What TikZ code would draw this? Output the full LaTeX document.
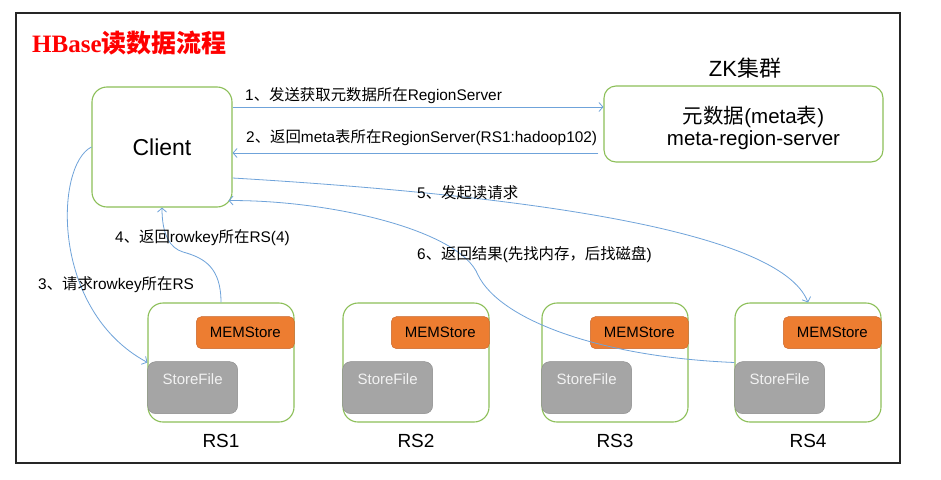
\documentclass[tikz,border=0pt]{standalone}
\usepackage{fontspec}
\setmainfont{Liberation Sans}
\newfontfamily\zhfont{Noto Sans CJK SC}
\newfontfamily\titlefont{Liberation Serif}
\usetikzlibrary{arrows.meta,positioning}

\definecolor{boxgreen}{HTML}{8CBF58}
\definecolor{flowblue}{HTML}{6FA3DA}
\definecolor{memfill}{HTML}{ED7D31}
\definecolor{memedge}{HTML}{C8652A}
\definecolor{sffill}{HTML}{A5A5A5}
\definecolor{sfedge}{HTML}{8A8A8A}
\definecolor{titlered}{HTML}{FF0000}

\newcommand{\zh}[1]{{\zhfont #1}}
\newcommand{\fsz}[1]{\fontsize{#1}{#1}\selectfont}

\begin{document}
\begin{tikzpicture}[x=1pt,y=-1pt,
  box/.style={draw=boxgreen, line width=1.1pt, rounded corners=15pt, fill=white},
  mem/.style={draw=memedge, fill=memfill, rounded corners=5pt, minimum width=98pt,
    minimum height=32pt, inner sep=0pt, font=\fsz{15}, anchor=north east},
  sfile/.style={draw=sfedge, fill=sffill, rounded corners=8pt, text=white!95!black,
    minimum width=90pt, inner sep=0pt, text height=23pt, text depth=29pt,
    font=\fsz{15}, anchor=north west},
  flow/.style={draw=flowblue, line width=0.8pt, -{Straight Barb[length=4pt,width=9pt]}},
  lbl/.style={anchor=west, inner sep=0pt, font=\fsz{15.4}},
  rsname/.style={font=\fsz{19}, inner sep=0pt}]
  \useasboundingbox[fill=white] (0,0) rectangle (941,479);
  \draw[line width=1.2pt, black!85] (16,13) rectangle (900,463);

  % title
  \node[anchor=west, inner sep=0pt, text=titlered, font=\bfseries\fsz{25}] (title) at (32,43)
    {{\titlefont HBase}\zh{读数据流程}};

  % client and zookeeper
  \node[box, minimum width=140pt, minimum height=120pt, font=\fsz{23}] (client) at (162,147) {Client};
  \node[box, rounded corners=12pt, minimum width=279pt, minimum height=76pt] (zk) at (743.5,124) {};
  \node[align=center, font=\fontsize{20.5}{22}\selectfont] (zktext) at ([xshift=10pt,yshift=-4pt]zk.center)
    {\zh{元数据}(meta\zh{表})\\meta-region-server};
  \node[font=\fsz{22}] (zkname) at (745,68) {ZK\zh{集群}};

  % region servers
  \node[box, minimum width=146pt, minimum height=119pt] (rs1) at (221,362.5) {};
  \node[mem] (mem1) at ([yshift=-14pt]rs1.north east) {MEMStore};
  \node[sfile] (sf1) at ([yshift=-59pt]rs1.north west) {StoreFile};
  \node[rsname, below=11pt of rs1] (rsl1) {RS1};

  \node[box, minimum width=146pt, minimum height=119pt] (rs2) at (416,362.5) {};
  \node[mem] (mem2) at ([yshift=-14pt]rs2.north east) {MEMStore};
  \node[sfile] (sf2) at ([yshift=-59pt]rs2.north west) {StoreFile};
  \node[rsname, below=11pt of rs2] (rsl2) {RS2};

  \node[box, minimum width=146pt, minimum height=119pt] (rs3) at (615,362.5) {};
  \node[mem] (mem3) at ([yshift=-14pt]rs3.north east) {MEMStore};
  \node[sfile] (sf3) at ([yshift=-59pt]rs3.north west) {StoreFile};
  \node[rsname, below=11pt of rs3] (rsl3) {RS3};

  \node[box, minimum width=146pt, minimum height=119pt] (rs4) at (808,362.5) {};
  \node[mem] (mem4) at ([yshift=-14pt]rs4.north east) {MEMStore};
  \node[sfile] (sf4) at ([yshift=-59pt]rs4.north west) {StoreFile};
  \node[rsname, below=11pt of rs4] (rsl4) {RS4};

  % read steps
  \draw[flow] ([yshift=40pt]client.east) -- ([yshift=17pt]zk.west);
  \draw[flow] ([xshift=-5pt,yshift=-29pt]zk.west) -- ([yshift=-6pt]client.east);
  \draw[flow] (client.west) .. controls (55,165) and (50,310) .. ([yshift=-1pt]sf1.north west);
  \draw[flow] (rs1.north) .. controls (221,268) and (205,258) .. (183,252)
    .. controls (170,248) and (162,235) .. (client.south);
  \draw[flow] ([yshift=-31pt]client.east) .. controls (520,195) and (780,230) .. (rs4.north);
  \draw[flow] (rs4.west) .. controls (600,357) and (500,320) .. (478,275)
    .. controls (460,230) and (330,200) .. ([xshift=-4pt,yshift=7pt]client.south east);

  \node[lbl] (l1) at (245,96) {1\zh{、发送获取元数据所在}RegionServer};
  \node[lbl] (l2) at (246,138) {2\zh{、返回}meta\zh{表所在}RegionServer(RS1:hadoop102)};
  \node[lbl] (l3) at (38,285) {3\zh{、请求}rowkey\zh{所在}RS};
  \node[lbl] (l4) at (115,238) {4\zh{、返回}rowkey\zh{所在}RS(4)};
  \node[lbl] (l5) at (417,193) {5\zh{、发起读请求}};
  \node[lbl] (l6) at (417,255) {6\zh{、返回结果}(\zh{先找内存，后找磁盘})};
\end{tikzpicture}
\end{document}
